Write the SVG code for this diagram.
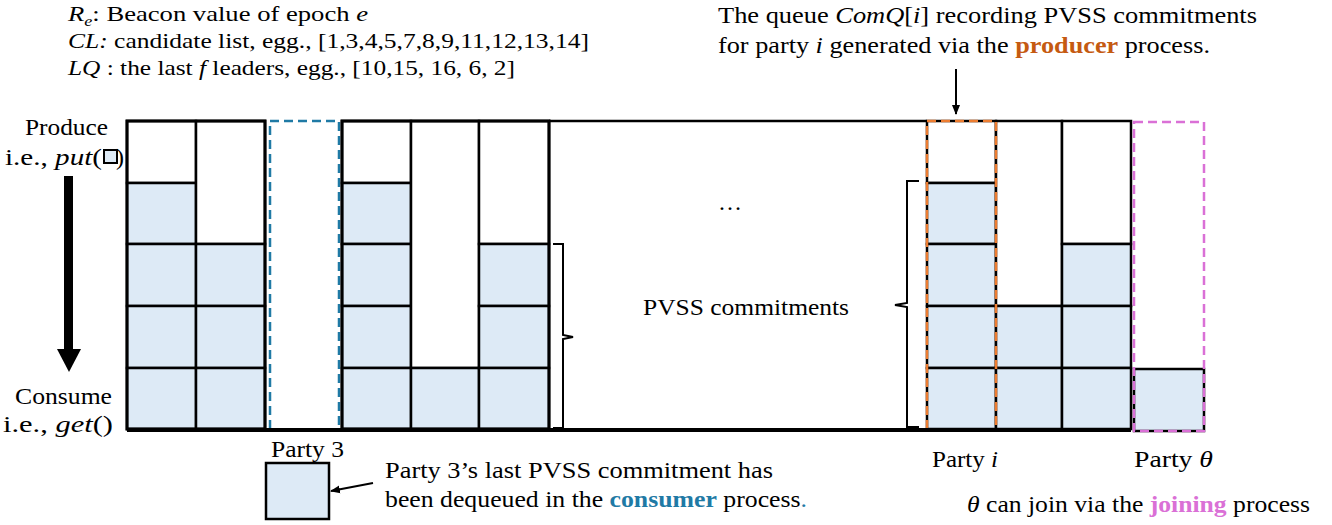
<svg xmlns="http://www.w3.org/2000/svg" width="1332" height="525" viewBox="0 0 1332 525" font-family="'Liberation Serif', 'Times New Roman', serif">
<style>
text{font-family:'Liberation Serif','Times New Roman',serif;font-size:24px;fill:#000}
.sm{font-size:22px}
.it{font-style:italic}
.cell{fill:#DDEAF6;stroke:#000;stroke-width:2.5}
.empty{fill:#fff;stroke:#000;stroke-width:2.5}
.outer{fill:none;stroke:#000;stroke-width:3}
.conn{fill:none;stroke:#000;stroke-width:2}
</style>
<defs>
<marker id="ah" markerWidth="10" markerHeight="10" refX="9" refY="5" orient="auto" markerUnits="userSpaceOnUse">
<path d="M0,1 L10,5 L0,9 z" fill="#000"/>
</marker>
</defs>
<rect width="1332" height="525" fill="#fff"/>

<g id="legend">
<text class="sm" x="68" y="21" textLength="300" lengthAdjust="spacingAndGlyphs"><tspan class="it">R</tspan><tspan class="it" font-size="15" dy="5">e</tspan><tspan dy="-5">:  Beacon value of epoch </tspan><tspan class="it">e</tspan></text>
<text class="sm" x="68" y="48" textLength="521" lengthAdjust="spacingAndGlyphs"><tspan class="it">CL:</tspan> candidate list, egg., [1,3,4,5,7,8,9,11,12,13,14]</text>
<text class="sm" x="68" y="75" textLength="447" lengthAdjust="spacingAndGlyphs"><tspan class="it">LQ</tspan> : the last <tspan class="it">f</tspan> leaders, egg., [10,15, 16, 6, 2]</text>
</g>

<g id="queue-note">
<text x="718" y="23" textLength="539" lengthAdjust="spacingAndGlyphs">The queue <tspan class="it">ComQ</tspan>[<tspan class="it">i</tspan>] recording PVSS commitments</text>
<text x="718" y="53" textLength="492" lengthAdjust="spacingAndGlyphs">for party <tspan class="it">i</tspan> generated via the <tspan font-weight="bold" fill="#C55A11">producer</tspan> process.</text>
</g>

<g id="produce-consume">
<text x="25" y="135" textLength="83" lengthAdjust="spacingAndGlyphs">Produce</text>
<text x="5" y="165" textLength="97" lengthAdjust="spacingAndGlyphs">i.e., <tspan class="it">put</tspan>(</text>
<rect x="104" y="150" width="13" height="13" fill="#DDEAF6" stroke="#000" stroke-width="2"/>
<text x="116" y="165">)</text>
<rect x="64" y="176" width="9" height="175" fill="#000"/>
<polygon points="57,349 81,349 69,372" fill="#000"/>
<text x="15" y="404" textLength="97" lengthAdjust="spacingAndGlyphs">Consume</text>
<text x="3" y="432" textLength="110" lengthAdjust="spacingAndGlyphs">i.e., <tspan class="it">get</tspan>()</text>
</g>

<g id="block-a">
<rect class="empty" x="127" y="121" width="69" height="62"/>
<rect class="cell" x="127" y="183" width="69" height="61"/>
<rect class="cell" x="127" y="244" width="69" height="62"/>
<rect class="cell" x="127" y="306" width="69" height="62"/>
<rect class="cell" x="127" y="368" width="69" height="61"/>
<rect class="empty" x="196" y="121" width="69" height="123"/>
<rect class="cell" x="196" y="244" width="69" height="62"/>
<rect class="cell" x="196" y="306" width="69" height="62"/>
<rect class="cell" x="196" y="368" width="69" height="61"/>
<rect class="outer" x="127" y="121" width="138" height="308"/>
</g>

<g id="party3">
<rect x="270" y="121" width="69" height="309" fill="none" stroke="#1F7AA5" stroke-width="2.5" stroke-dasharray="9,5"/>
<text x="271" y="457" textLength="73" lengthAdjust="spacingAndGlyphs">Party 3</text>
</g>

<g id="block-b">
<rect class="empty" x="342" y="121" width="69" height="62"/>
<rect class="cell" x="342" y="183" width="69" height="61"/>
<rect class="cell" x="342" y="244" width="69" height="62"/>
<rect class="cell" x="342" y="306" width="69" height="62"/>
<rect class="cell" x="342" y="368" width="69" height="61"/>
<rect class="empty" x="411" y="121" width="68" height="247"/>
<rect class="cell" x="411" y="368" width="68" height="61"/>
<rect class="empty" x="479" y="121" width="70" height="123"/>
<rect class="cell" x="479" y="244" width="70" height="62"/>
<rect class="cell" x="479" y="306" width="70" height="62"/>
<rect class="cell" x="479" y="368" width="70" height="61"/>
<rect class="outer" x="342" y="121" width="207" height="308"/>
</g>

<g id="middle">
<line x1="549" y1="121" x2="927" y2="121" stroke="#000" stroke-width="2.5"/>
<text x="730" y="210" text-anchor="middle" font-size="30">…</text>
<text x="643" y="315" textLength="206" lengthAdjust="spacingAndGlyphs">PVSS commitments</text>
</g>

<g id="block-c">
<rect class="empty" x="927" y="121" width="69" height="62"/>
<rect class="cell" x="927" y="183" width="69" height="61"/>
<rect class="cell" x="927" y="244" width="69" height="62"/>
<rect class="cell" x="927" y="306" width="69" height="62"/>
<rect class="cell" x="927" y="368" width="69" height="61"/>
<rect class="empty" x="996" y="121" width="66" height="185"/>
<rect class="cell" x="996" y="306" width="66" height="62"/>
<rect class="cell" x="996" y="368" width="66" height="61"/>
<rect class="empty" x="1062" y="121" width="69" height="123"/>
<rect class="cell" x="1062" y="244" width="69" height="62"/>
<rect class="cell" x="1062" y="306" width="69" height="62"/>
<rect class="cell" x="1062" y="368" width="69" height="61"/>
<rect x="927" y="121" width="69" height="309" fill="none" stroke="#ED7D31" stroke-width="2.5" stroke-dasharray="9,5"/>
<text x="932" y="467" textLength="66" lengthAdjust="spacingAndGlyphs">Party <tspan class="it">i</tspan></text>
</g>

<g id="party-theta">
<rect class="cell" x="1134" y="369" width="70" height="62"/>
<rect x="1134" y="122" width="70" height="309" fill="none" stroke="#DA70D6" stroke-width="2.5" stroke-dasharray="9,5"/>
<text x="1134" y="467" textLength="79" lengthAdjust="spacingAndGlyphs">Party  <tspan class="it">θ</tspan></text>
<text x="967" y="512" textLength="343" lengthAdjust="spacingAndGlyphs"><tspan class="it">θ</tspan> can join via the <tspan font-weight="bold" fill="#DA70D6">joining</tspan> process</text>
</g>

<g id="dequeued">
<rect class="cell" x="266" y="463" width="63" height="56"/>
<text x="385" y="478" textLength="388" lengthAdjust="spacingAndGlyphs">Party 3’s last PVSS commitment has</text>
<text x="385" y="507" textLength="422" lengthAdjust="spacingAndGlyphs">been dequeued in the <tspan font-weight="bold" fill="#1F7AA5">consumer</tspan> process<tspan fill="#1F7AA5">.</tspan></text>
</g>

<g id="connectors">
<line x1="127" y1="430" x2="1131" y2="430" stroke="#000" stroke-width="4"/>
<path class="conn" d="M553,244 L563,244 L563,335 L573,337 L563,339 L563,428 L553,428"/>
<path class="conn" d="M919,181 L907,181 L907,303 L895,305 L907,307 L907,427 L919,427"/>
<line class="conn" x1="956" y1="69" x2="956" y2="114" marker-end="url(#ah)"/>
<line class="conn" x1="373" y1="483" x2="331" y2="491" marker-end="url(#ah)"/>
</g>
</svg>
